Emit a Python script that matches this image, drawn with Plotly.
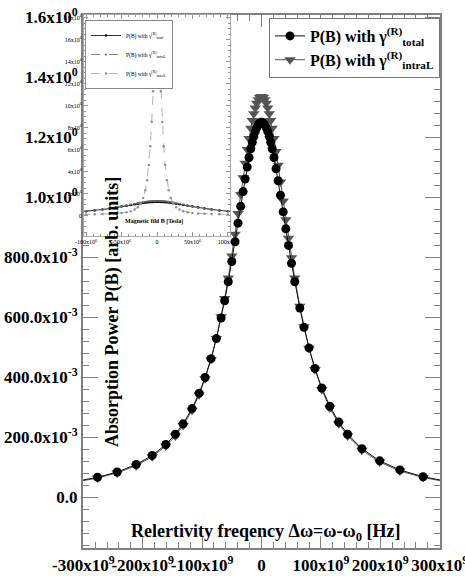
import plotly.graph_objects as go

# ---------------- main plot data (frequency in units of 1e9 Hz) ----------------
freq_ghz = [-320, -276, -243, -211, -184, -161, -145, -132, -117, -105, -95, -85, -76, -68, -62, -56, -50,
            -44.5, -39.5, -35, -31, -27.5, -24, -21, -18, -15.5, -13, -10.5, -8, -5.5, -3, -1,
            1, 3, 5.5, 8, 10.5, 13, 15.5, 18, 21, 24.5, 28, 32, 36.5, 41, 45.5, 50.5, 56,
            64.5, 71.5, 80, 90, 101.5, 115, 130, 145, 169, 199, 233, 272, 320]

p_total = [0.0495, 0.0657, 0.0835, 0.1083, 0.1387, 0.1752, 0.2092, 0.2440, 0.2948, 0.3463, 0.3986, 0.4613,
           0.5281, 0.5969, 0.6545, 0.7175, 0.7853, 0.8511, 0.9129, 0.9691, 1.0183, 1.0602, 1.1000, 1.1318,
           1.1610, 1.1827, 1.2019, 1.2182, 1.2313, 1.2411, 1.2473, 1.2497,
           1.2497, 1.2473, 1.2411, 1.2313, 1.2182, 1.2019, 1.1827, 1.1610, 1.1318, 1.0945, 1.0543, 1.0061,
           0.9504, 0.8942, 0.8389, 0.7795, 0.7175, 0.6298, 0.5656, 0.4971, 0.4285, 0.3635, 0.3026, 0.2500,
           0.2092, 0.1611, 0.1205, 0.0903, 0.0675, 0.0495]

p_intra = [0.0476, 0.0632, 0.0804, 0.1045, 0.1342, 0.1700, 0.2035, 0.2381, 0.2890, 0.3410, 0.3943, 0.4588,
           0.5283, 0.6007, 0.6621, 0.7299, 0.8037, 0.8762, 0.9451, 1.0084, 1.0645, 1.1125, 1.1586, 1.1956,
           1.2296, 1.2553, 1.2779, 1.2972, 1.3128, 1.3244, 1.3318, 1.3347,
           1.3347, 1.3318, 1.3244, 1.3128, 1.2972, 1.2779, 1.2553, 1.2296, 1.1956, 1.1522, 1.1058, 1.0506,
           0.9873, 0.9243, 0.8627, 0.7974, 0.7299, 0.6357, 0.5677, 0.4959, 0.4249, 0.3585, 0.2969, 0.2441,
           0.2035, 0.1561, 0.1164, 0.0869, 0.0649, 0.0476]

x_tickvals = [-300, -200, -100, 0, 100, 200, 300]
x_ticktext = ["-300x10<sup>9</sup>", "-200x10<sup>9</sup>", "-100x10<sup>9</sup>", "0",
              "100x10<sup>9</sup>", "200x10<sup>9</sup>", "300x10<sup>9</sup>"]
y_tickvals = [0, 0.2, 0.4, 0.6, 0.8, 1.0, 1.2, 1.4, 1.6]
y_ticktext = ["0.0", "200.0x10<sup>-3</sup>", "400.0x10<sup>-3</sup>", "600.0x10<sup>-3</sup>",
              "800.0x10<sup>-3</sup>", "1.0x10<sup>0</sup>", "1.2x10<sup>0</sup>", "1.4x10<sup>0</sup>",
              "1.6x10<sup>0</sup>"]

# ---------------- inset data (B in units of 1e6, P in units of 1e6) ----------------
inset_b = [-106, -100, -88, -77, -67, -58, -50, -43, -37, -31.5, -27, -23, -19.5, -16.5, -14, -11.5, -9.5,
           -7.5, -5.5, -3.5, -1.5, 0, 1.5, 3.5, 5.5, 7.5, 9.5, 11.5, 14, 16.5, 19.5, 23, 27, 31.5, 37, 43,
           50, 58, 67, 77, 88, 100, 106]
inset_total = [0.364, 0.395, 0.467, 0.548, 0.634, 0.724, 0.811, 0.893, 0.965, 1.029, 1.080, 1.122, 1.155,
               1.181, 1.199, 1.215, 1.226, 1.235, 1.242, 1.247, 1.249, 1.250, 1.249, 1.247, 1.242, 1.235,
               1.226, 1.215, 1.199, 1.181, 1.155, 1.122, 1.080, 1.029, 0.965, 0.893, 0.811, 0.724, 0.634,
               0.548, 0.467, 0.395, 0.364]
inset_intra = [0.349, 0.379, 0.452, 0.535, 0.627, 0.723, 0.819, 0.911, 0.993, 1.068, 1.128, 1.178, 1.218,
               1.249, 1.272, 1.292, 1.305, 1.316, 1.325, 1.331, 1.334, 1.335, 1.334, 1.331, 1.325, 1.316,
               1.305, 1.292, 1.272, 1.249, 1.218, 1.178, 1.128, 1.068, 0.993, 0.911, 0.819, 0.723, 0.627,
               0.535, 0.452, 0.379, 0.349]
inset_inter = [0.085, 0.09, 0.11, 0.13, 0.16, 0.19, 0.24, 0.30, 0.40, 0.55, 0.75, 1.10, 1.60, 2.30, 3.20,
               4.60, 6.30, 8.50, 11.3, 14.3, 16.6, 17.3, 16.6, 14.3, 11.3, 8.50, 6.30, 4.60, 3.20, 2.30,
               1.60, 1.10, 0.75, 0.55, 0.40, 0.30, 0.24, 0.19, 0.16, 0.13, 0.11, 0.09, 0.085]

ix_tickvals = [-100, -50, 0, 50, 100]
ix_ticktext = ["-100x10<sup>6</sup>", "-50x10<sup>6</sup>", "0", "50x10<sup>6</sup>", "100x10<sup>6</sup>"]
iy_tickvals = [0, 2, 4, 6, 8, 10, 12, 14, 16, 18]
iy_ticktext = ["0"] + ["%dx10<sup>6</sup>" % v for v in iy_tickvals[1:]]

SERIF = "Liberation Serif"
AX_GRAY = "#808080"

fig = go.Figure()

# main traces (triangles first so circles sit on top)
fig.add_trace(go.Scatter(
    x=freq_ghz, y=p_intra, mode="lines+markers",
    name="P(B) with γ<sup>(R)</sup><sub>intraL</sub>",
    line=dict(color="#555555", width=1),
    marker=dict(symbol="triangle-down", size=10, color="#555555"),
    legend="legend", legendrank=2, cliponaxis=True))
fig.add_trace(go.Scatter(
    x=freq_ghz, y=p_total, mode="lines+markers",
    name="P(B) with γ<sup>(R)</sup><sub>total</sub>",
    line=dict(color="#111111", width=1),
    marker=dict(symbol="circle", size=9, color="black"),
    legend="legend", legendrank=1, cliponaxis=True))

# inset traces
fig.add_trace(go.Scatter(
    x=inset_b, y=inset_total, xaxis="x2", yaxis="y2", mode="lines+markers",
    name="P(B) with γ<sup>(R)</sup><sub>total</sub>",
    line=dict(color="black", width=0.8),
    marker=dict(symbol="circle", size=2.5, color="black"),
    legend="legend2", legendrank=1))
fig.add_trace(go.Scatter(
    x=inset_b, y=inset_intra, xaxis="x2", yaxis="y2", mode="lines+markers",
    name="P(B) with γ<sup>(R)</sup><sub>intraL</sub>",
    line=dict(color="#666666", width=0.8, dash="dash"),
    marker=dict(symbol="triangle-down", size=3, color="#666666"),
    legend="legend2", legendrank=2))
fig.add_trace(go.Scatter(
    x=inset_b, y=inset_inter, xaxis="x2", yaxis="y2", mode="lines+markers",
    name="P(B) with γ<sup>(R)</sup><sub>interL</sub>",
    line=dict(color="#a0a0a0", width=0.8, dash="dash"),
    marker=dict(symbol="circle", size=2.5, color="#909090"),
    legend="legend2", legendrank=3))

W, H = 465, 576
L, R, T, B = 83, 25, 15, 28
PW, PH = W - L - R, H - T - B

def px_x(px):
    return (px - L) / PW

def px_y(py):
    return (H - B - py) / PH

tick_font = dict(family=SERIF, size=17, color="black", weight="bold")

fig.update_layout(
    width=W, height=H,
    margin=dict(l=L, r=R, t=T, b=B, autoexpand=False),
    paper_bgcolor="white", plot_bgcolor="white",
    showlegend=True,
    xaxis=dict(
        range=[-300.5, 300.5], tickmode="array", tickvals=x_tickvals, ticktext=x_ticktext,
        tickfont=tick_font, ticks="inside", ticklen=12, tickcolor=AX_GRAY, tickwidth=1,
        showline=True, linecolor=AX_GRAY, linewidth=2, mirror="ticks",
        showgrid=False, zeroline=False, ticklabelstandoff=1, tickangle=0, automargin=False,
        ticklabeloverflow="allow",
        minor=dict(tickmode="linear", tick0=0, dtick=20, ticks="inside", ticklen=6,
                   tickcolor=AX_GRAY, showgrid=False),
    ),
    yaxis=dict(
        range=[-0.17, 1.607], tickmode="array", tickvals=y_tickvals, ticktext=y_ticktext,
        tickfont=tick_font, ticks="inside", ticklen=15, tickcolor=AX_GRAY, tickwidth=1,
        showline=True, linecolor=AX_GRAY, linewidth=2, mirror="ticks",
        showgrid=False, zeroline=False, automargin=False, ticklabeloverflow="allow",
        minor=dict(tickmode="linear", tick0=0, dtick=0.04, ticks="inside", ticklen=6,
                   tickcolor=AX_GRAY, showgrid=False),
    ),
    xaxis2=dict(
        domain=[px_x(84), px_x(230)], anchor="y2",
        range=[-103, 103], tickmode="array", tickvals=ix_tickvals, ticktext=ix_ticktext,
        tickfont=dict(family=SERIF, size=6, color="black"), ticks="inside", ticklen=4,
        tickcolor="#999999", showline=True, linecolor="#aaaaaa", linewidth=1, mirror="ticks",
        showgrid=False, zeroline=False, ticklabelstandoff=0, tickangle=0, automargin=False,
        minor=dict(tickmode="linear", tick0=0, dtick=10, ticks="inside", ticklen=2,
                   tickcolor="#999999", showgrid=False),
    ),
    yaxis2=dict(
        domain=[px_y(236), 1.0], anchor="x2",
        range=[-1.86, 18.23], tickmode="array", tickvals=iy_tickvals, ticktext=iy_ticktext,
        tickfont=dict(family=SERIF, size=6, color="black"), ticks="inside", ticklen=4,
        tickcolor="#999999", showline=True, linecolor="#aaaaaa", linewidth=1, mirror="ticks",
        showgrid=False, zeroline=False, ticklabelstandoff=0, automargin=False,
        minor=dict(tickmode="linear", tick0=0, dtick=0.5, ticks="inside", ticklen=2,
                   tickcolor="#999999", showgrid=False),
    ),
    legend=dict(
        x=1.0, xanchor="right", y=px_y(18), yanchor="top",
        bgcolor="white", bordercolor="#777777", borderwidth=1,
        font=dict(family=SERIF, size=16, color="black", weight="bold"),
        itemsizing="trace", tracegroupgap=2,
    ),
    legend2=dict(
        x=px_x(85), xanchor="left", y=px_y(20), yanchor="top",
        bgcolor="white", bordercolor="#888888", borderwidth=1,
        font=dict(family=SERIF, size=5.5, color="black"),
        itemsizing="trace", tracegroupgap=0,
    ),
    annotations=[
        dict(text="<b>Absorption Power P(B) [arb. units]</b>", xref="paper", yref="paper",
             x=px_x(112), y=px_y(312), textangle=-90, showarrow=False,
             font=dict(family=SERIF, size=18, color="black"), xanchor="center", yanchor="middle"),
        dict(text="<b>Relertivity freqency Δω=ω-ω<sub>0</sub> [Hz]</b>", xref="paper", yref="paper",
             x=px_x(265), y=px_y(532), showarrow=False,
             font=dict(family=SERIF, size=18, color="black"), xanchor="center", yanchor="middle"),
        dict(text="<b>Magnetic fild B [Tesla]</b>", xref="paper", yref="paper",
             x=px_x(154), y=px_y(222), showarrow=False,
             font=dict(family=SERIF, size=6, color="black"), xanchor="center", yanchor="middle"),
    ],
)

fig.write_html("out.html", config={"displayModeBar": False},
               post_script="document.body.style.margin='0';document.body.style.overflow='hidden';")
